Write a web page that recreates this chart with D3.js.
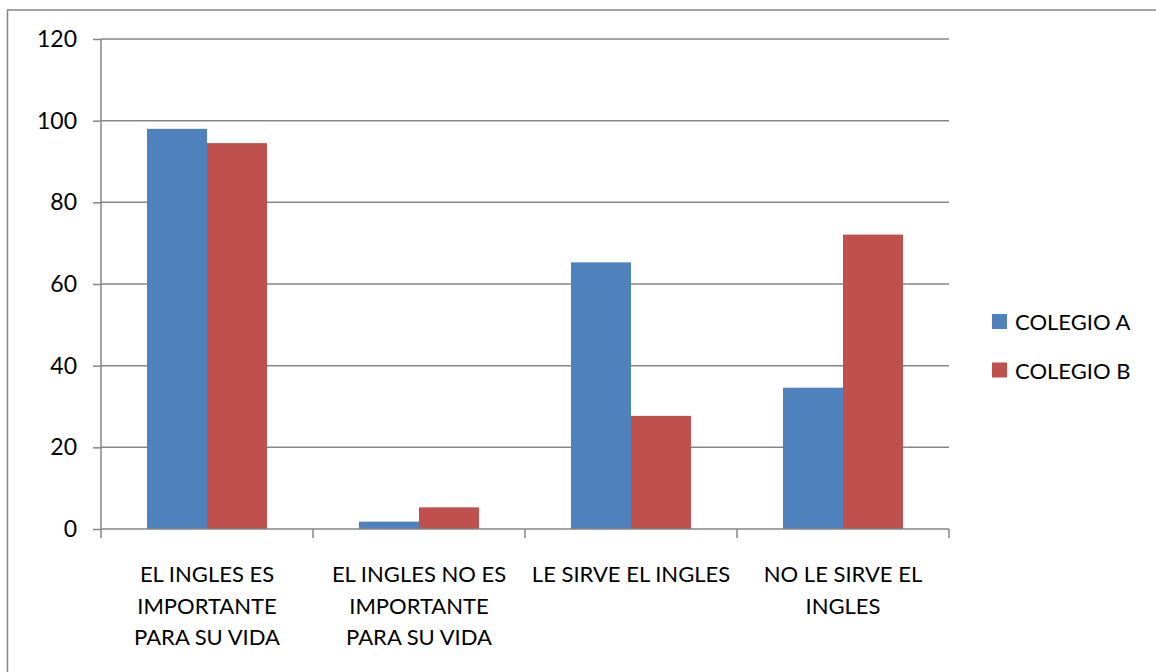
<!DOCTYPE html>
<html>
<head>
<meta charset="utf-8">
<script src="https://cdn.jsdelivr.net/npm/d3@7"></script>
<style>
  body { margin: 0; background: #fff; }
  svg text { font-family: Lato, "Liberation Sans", sans-serif; fill: #000; }
</style>
</head>
<body>
<script>
// chart data
var categories = [
    ["EL INGLES ES", "IMPORTANTE", "PARA SU VIDA"],
    ["EL INGLES NO ES", "IMPORTANTE", "PARA SU VIDA"],
    ["LE SIRVE EL INGLES"],
    ["NO LE SIRVE EL", "INGLES"]
];
var seriesNames = ["COLEGIO A", "COLEGIO B"];
var colegioA = [98, 1.8, 65.3, 34.6];
var colegioB = [94.5, 5.3, 27.7, 72.1];
var yTicks = [0, 20, 40, 60, 80, 100, 120];
var colors = ["#4f81bd", "#c0504d"];

var width = 1156, height = 672;
var plotLeft = 101, plotRight = 949, plotTop = 39, plotBottom = 529;

var svg = d3.select("body").append("svg")
    .attr("width", width)
    .attr("height", height);

// outer chart border
svg.append("rect")
    .attr("x", 7.5).attr("y", 10)
    .attr("width", 1160).attr("height", 680)
    .style("fill", "none")
    .style("stroke", "#868686")
    .style("stroke-width", 1.5);

var x0 = d3.scaleBand()
    .domain(d3.range(categories.length))
    .range([plotLeft, plotRight])
    .paddingInner(0)
    .paddingOuter(0);

//bars are 60 wide inside a 212 wide category
var x1 = d3.scaleBand()
    .domain(d3.range(seriesNames.length))
    .range([0, x0.bandwidth()])
    .paddingInner(0)
    .paddingOuter(0.767);

var y = d3.scaleLinear()
    .domain([0, 120])
    .range([plotBottom, plotTop]);

//gridlines
svg.append("g")
    .selectAll("line")
    .data(yTicks.filter(function(d){return d > 0;}))
    .enter()
    .append("line")
    .attr("x1", plotLeft).attr("x2", plotRight)
    .attr("y1", function(d){return y(d);})
    .attr("y2", function(d){return y(d);})
    .style("stroke", "#868686")
    .style("stroke-width", 1.5);

//bars
var table = categories.map(function(c, i){return [colegioA[i], colegioB[i]];});
var groups = svg.append("g")
    .selectAll("g")
    .data(table)
    .enter()
    .append("g")
    .attr("transform", function(d, i){return "translate(" + x0(i) + ",0)";});

groups.selectAll("rect")
    .data(function(d){return d;})
    .enter()
    .append("rect")
    .attr("x", function(d, j){return x1(j);})
    .attr("y", function(d){return y(d);})
    .attr("width", x1.bandwidth())
    .attr("height", function(d){return plotBottom - y(d);})
    .style("fill", function(d, j){return colors[j];});

//y axis
var yAxis = svg.append("g")
    .attr("transform", "translate(" + plotLeft + ",0)")
    .call(d3.axisLeft(y).tickValues(yTicks).tickSize(8).tickPadding(16));
yAxis.selectAll("path, line").style("stroke", "#868686").style("stroke-width", 1.5);
yAxis.select(".domain").attr("d", "M0," + plotTop + "V" + plotBottom);
yAxis.selectAll("text")
    .style("font-size", "23px")
    .style("font-family", "Lato, 'Liberation Sans', sans-serif");

//x axis
var xAxis = svg.append("g")
    .attr("transform", "translate(0," + plotBottom + ")");
xAxis.append("line")
    .attr("x1", plotLeft).attr("x2", plotRight)
    .style("stroke", "#868686").style("stroke-width", 1.5);
xAxis.selectAll("line.tick")
    .data(d3.range(categories.length + 1))
    .enter()
    .append("line")
    .attr("class", "tick")
    .attr("x1", function(d){return plotLeft + d * x0.step();})
    .attr("x2", function(d){return plotLeft + d * x0.step();})
    .attr("y1", 0).attr("y2", 9)
    .style("stroke", "#868686").style("stroke-width", 1.5);

xAxis.selectAll("text.cat")
    .data(categories)
    .enter()
    .append("text")
    .attr("class", "cat")
    .attr("text-anchor", "middle")
    .attr("x", function(d, i){return x0(i) + x0.bandwidth() / 2;})
    .attr("y", 53)
    .style("font-size", "22px")
    .selectAll("tspan")
    .data(function(d){return d;})
    .enter()
    .append("tspan")
    .attr("x", function(){return d3.select(this.parentNode).attr("x");})
    .attr("dy", function(d, i){return i === 0 ? 0 : 31.7;})
    .text(function(d){return d;});

//legend
var legend = svg.append("g")
    .selectAll("g")
    .data(seriesNames)
    .enter()
    .append("g")
    .attr("transform", function(d, i){return "translate(992," + (314 + i * 48.5) + ")";});
legend.append("rect")
    .attr("width", 15).attr("height", 15)
    .style("fill", function(d, i){return colors[i];});
legend.append("text")
    .attr("x", 23).attr("y", 16)
    .style("font-size", "22px")
    .text(function(d){return d;});
</script>
</body>
</html>
